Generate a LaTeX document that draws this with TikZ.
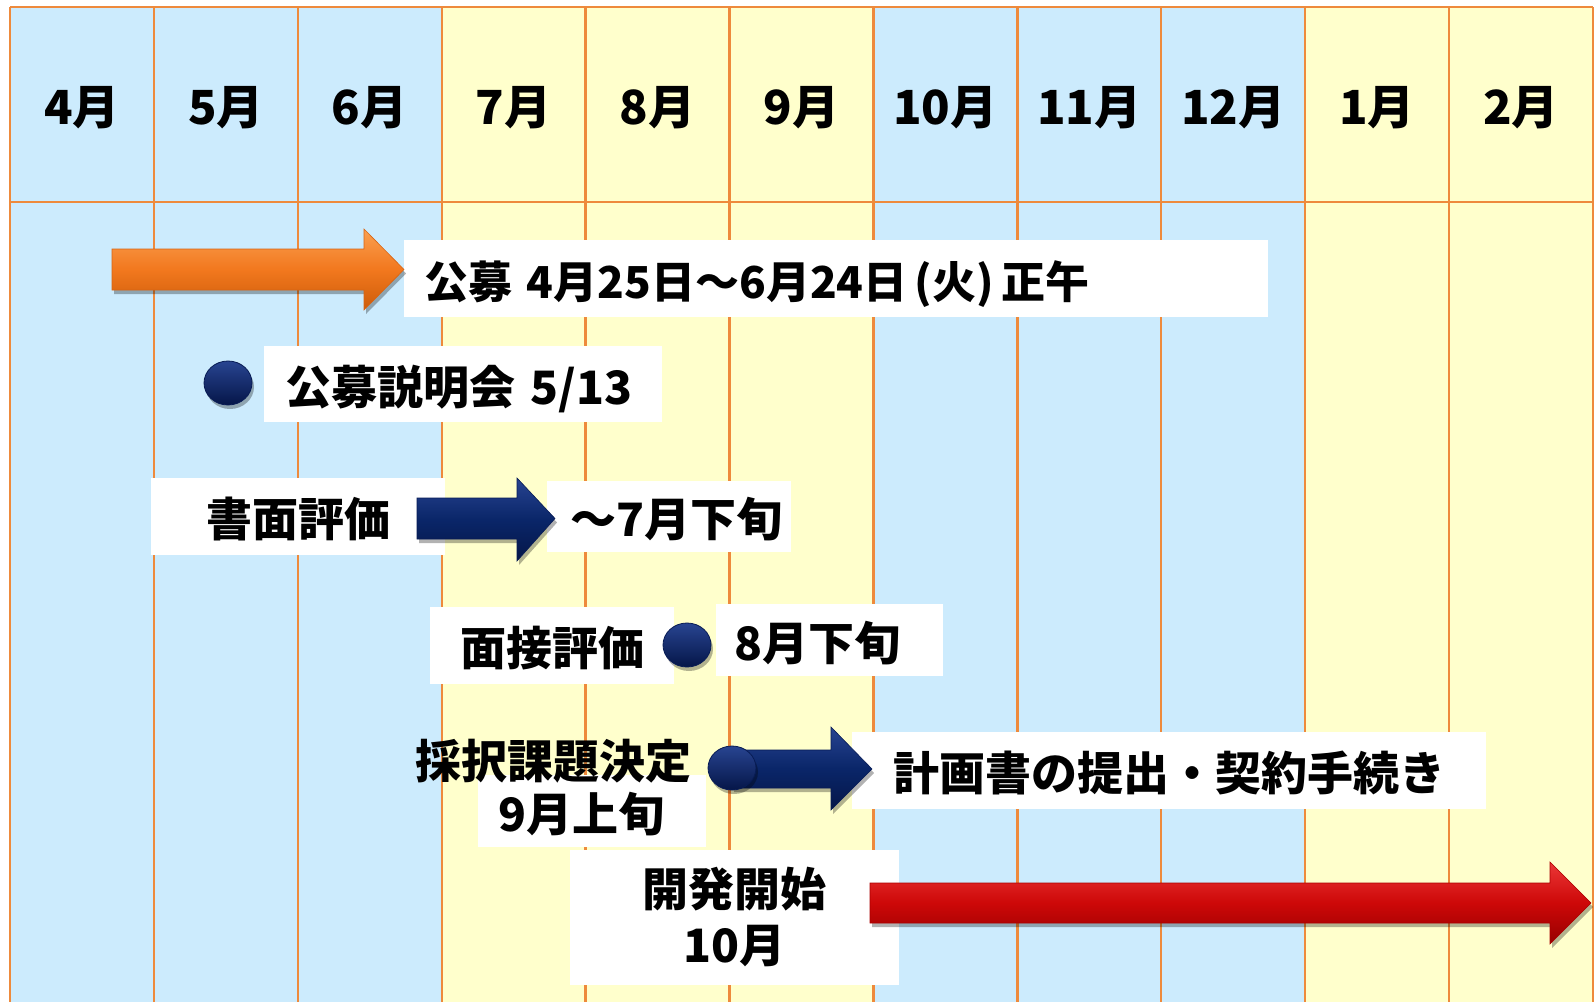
\documentclass[tikz,border=0pt]{standalone}
\usepackage{fontspec}
\usetikzlibrary{shadows,shapes.geometric}
\newfontfamily\jpfam{Noto Sans CJK JP}
\definecolor{cblue}{HTML}{CCEBFD}
\definecolor{cyel}{HTML}{FFFFCC}
\definecolor{gridc}{HTML}{EE8A3C}
\definecolor{oTop}{RGB}{250,160,80}
\definecolor{oMid}{RGB}{242,120,30}
\definecolor{oBot}{RGB}{205,92,10}
\definecolor{oEdge}{RGB}{215,100,20}
\definecolor{nTop}{RGB}{40,68,145}
\definecolor{nMid}{RGB}{10,38,105}
\definecolor{nBot}{RGB}{5,22,72}
\definecolor{nEdge}{RGB}{8,28,85}
\definecolor{rTop}{RGB}{235,55,55}
\definecolor{rMid}{RGB}{205,8,8}
\definecolor{rBot}{RGB}{150,0,0}
\definecolor{rEdge}{RGB}{170,0,0}
\begin{document}
\begin{tikzpicture}[x=1pt,y=-1pt,
  gridline/.style={draw=gridc,line width=2.4},
  month/.style={font=\jpfam\bfseries\fontsize{47}{56}\selectfont,text=black,inner sep=0},
  txt/.style={font=\jpfam\bfseries\fontsize{46}{56}\selectfont,text=black},
  vpos/.style={text height=43pt,text depth=3pt},
  wboxl/.style={txt,fill=white,anchor=west,align=left,inner ysep=0pt,vpos},
  wboxc/.style={txt,fill=white,anchor=center,align=center,inner sep=0pt},
  shd/.style={drop shadow={shadow xshift=2pt,shadow yshift=-4pt,opacity=.3,fill=black}},
  arrO/.style={shd,top color=oTop,bottom color=oBot,middle color=oMid,draw=oEdge,line width=0.6},
  arrN/.style={shd,top color=nTop,bottom color=nBot,middle color=nMid,draw=nEdge,line width=0.6},
  arrR/.style={shd,top color=rTop,bottom color=rBot,middle color=rMid,draw=rEdge,line width=0.6},
  dotn/.style={shd,ellipse,minimum width=48,minimum height=44,inner sep=0,top color=nTop,bottom color=nBot,draw=nEdge,line width=0.8}
]
\useasboundingbox (0,0) rectangle (1595,1002);
\fill[white] (0,0) rectangle (1595,1002);
% columns
\foreach \i/\c in {0/cblue,1/cblue,2/cblue,3/cyel,4/cyel,5/cyel,6/cblue,7/cblue,8/cblue,9/cyel,10/cyel}
  \fill[\c] ({10+143.9*\i},7) rectangle ({10+143.9*(\i+1)},1002);
\foreach \i in {0,...,11}
  \draw[gridline] ({10+143.9*\i},7) -- ({10+143.9*\i},1002);
\draw[gridline] (10,7) -- (1593,7);
\draw[gridline] (10,202) -- (1593,202);
% month headers
\foreach \i/\m in {0/4,1/5,2/6,3/7,4/8,5/9,6/10,7/11,8/12,9/1,10/2}
  \node[month] (m\i) at ({10+143.9*(\i+0.5)},108) {\m 月};
% white label boxes
\node[wboxl,inner xsep=20,text width=824,minimum height=77,font=\jpfam\bfseries\fontsize{44}{56}\selectfont] (b1) at (404,278.5) {公募 4月25日〜6月24日\,(火)\,正午};
\node[wboxl,inner xsep=21,text width=356,minimum height=76] (b2) at (264,384) {公募説明会 5/13};
\node[wboxc,minimum width=294,minimum height=77,vpos] (b3) at (298,516.5) {書面評価};
\node[wboxl,inner xsep=23,text width=198,minimum height=71] (b4) at (547,516.5) {〜7月下旬};
\node[wboxc,minimum width=244,minimum height=77,vpos] (b5) at (552,645.5) {面接評価};
\node[wboxl,inner xsep=18,text width=191,minimum height=72] (b6) at (716,640) {8月下旬};
\node[wboxl,inner xsep=20,text width=188,minimum height=72] (b7) at (478,811) {9月上旬};
\node[txt,inner sep=0,vpos] (t7) at (553.5,758) {採択課題決定};
\node[wboxc,minimum width=634,minimum height=77,vpos] (b8) at (1169,770.5) {計画書の提出・契約手続き};
\node[wboxc,minimum width=329,minimum height=135,text width=329] (b9) at (734.5,917) {開発開始\\[0pt]10月};
% arrows
\path[arrO] (112,249) -- (364,249) -- (364,229) -- (404,269.5) -- (364,310) -- (364,290) -- (112,290) -- cycle;
\path[arrN] (417,498) -- (517,498) -- (517,478) -- (555,518.5) -- (517,561) -- (517,539) -- (417,539) -- cycle;
\path[arrN] (732,750) -- (831,750) -- (831,727) -- (872,769) -- (831,810) -- (831,788) -- (732,788) -- cycle;
\path[arrR] (870,883) -- (1550,883) -- (1550,862) -- (1591,903) -- (1550,944) -- (1550,923) -- (870,923) -- cycle;
% dots
\node[dotn] (d1) at (228,383) {};
\node[dotn] (d2) at (687,645) {};
\node[dotn] (d3) at (732,768) {};
\end{tikzpicture}
\end{document}
